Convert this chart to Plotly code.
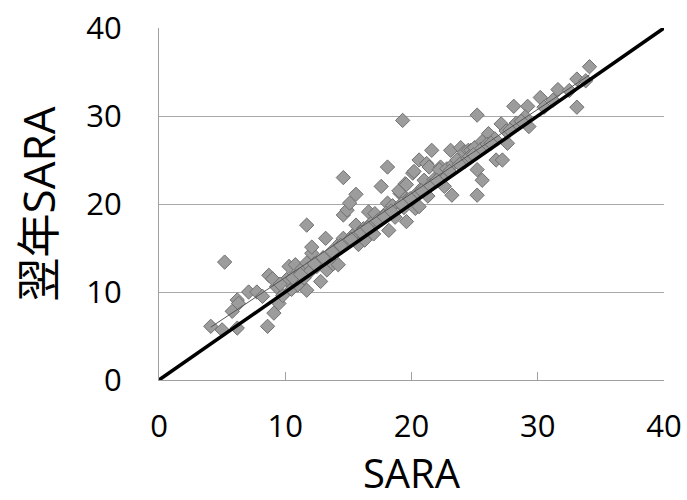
import numpy as np
import plotly.graph_objects as go

# Baseline SARA (x) vs. SARA one year later (y)
sara = [4.1, 5.0, 5.2, 5.8, 6.2, 6.2, 6.3, 7.1, 7.75, 8.2, 8.6, 8.7, 9.1, 9.3, 9.5, 9.0, 9.8,
        10.1, 10.3, 10.8, 10.5, 10.9, 11.3, 11.0, 11.7, 11.5, 11.7, 11.7, 12.1, 12.1, 12.0, 12.5,
        12.8, 12.9, 13.2, 13.3, 13.5, 13.8, 14.0, 14.2, 14.3, 14.6, 14.6, 14.9, 14.6, 15.0, 15.1,
        15.4, 15.6, 15.6, 15.8, 16.3, 16.2, 16.6, 16.8, 17.1, 17.0, 17.5, 17.6, 18.1, 18.1, 18.2,
        18.0, 18.5, 18.7, 19.1, 19.3, 19.0, 19.5, 19.6, 19.6, 19.7, 19.4, 20.1, 20.3, 20.2, 20.6,
        20.6, 20.5, 20.9, 21.0, 21.2, 21.4, 21.3, 21.6, 21.8, 22.3, 22.4, 22.6, 22.2, 22.8, 23.1,
        23.2, 23.3, 23.6, 23.9, 24.2, 24.5, 24.7, 24.2, 24.6, 25.0, 25.2, 25.2, 25.2, 25.6, 25.6,
        25.5, 26.1, 26.0, 26.7, 27.2, 26.6, 27.1, 27.6, 27.5, 28.1, 28.3, 29.2, 29.3, 29.0, 30.2,
        30.5, 31.6, 31.2, 33.1, 33.1, 34.1, 33.8, 32.5,
        9.6, 10.6, 11.2, 12.3, 13.0, 13.7, 14.4, 15.2, 16.0, 16.5, 17.3, 17.8, 18.4, 19.2, 19.9,
        20.8, 21.5, 22.0, 23.0, 23.8, 24.9, 26.3, 27.8, 28.7]
sara_next = [6.1, 5.7, 13.4, 7.8, 5.9, 9.1, 8.7, 10.0, 10.0, 9.5, 6.1, 11.9, 7.6, 10.6, 8.7, 11.5, 9.6,
             11.4, 12.9, 13.1, 10.3, 11.8, 12.6, 10.8, 10.2, 11.6, 13.3, 17.6, 14.4, 15.1, 12.4, 12.9,
             11.2, 13.6, 16.1, 12.5, 14.1, 13.2, 14.8, 13.1, 15.5, 16.1, 18.75, 19.3, 23.0, 15.8, 20.1,
             16.5, 17.6, 21.1, 15.4, 15.9, 17.2, 19.1, 17.8, 18.9, 16.6, 18.2, 22.0, 24.2, 20.1, 17.0,
             19.0, 19.8, 18.5, 21.2, 29.5, 21.5, 22.3, 22.2, 18.0, 20.5, 19.6, 23.5, 19.5, 23.7, 25.0,
             19.7, 21.3, 21.9, 22.7, 24.6, 24.2, 20.9, 26.1, 22.8, 24.2, 23.3, 22.0, 23.9, 24.0, 26.1,
             21.0, 24.5, 25.0, 26.4, 25.9, 26.1, 26.1, 24.8, 25.4, 26.4, 30.1, 23.9, 21.0, 22.7, 27.1,
             26.2, 28.0, 26.8, 25.0, 25.0, 27.4, 29.1, 26.9, 28.3, 31.1, 29.2, 31.1, 28.8, 29.9, 32.1,
             31.0, 33.0, 31.8, 31.0, 34.2, 35.6, 34.0, 32.9,
             10.9, 11.6, 12.0, 13.2, 13.9, 14.6, 15.3, 16.0, 16.8, 17.3, 18.1, 18.6, 19.2, 20.0, 20.6,
             21.5, 22.1, 22.7, 23.7, 24.5, 25.6, 26.9, 28.4, 29.4]

axis_range = [0, 40]
tick_vals = [0, 10, 20, 30, 40]
tick_text = ["0", "10", "20", "30", "40"]
x_title = "SARA"
y_title = "翌年SARA"

# regression line computed from the data
slope, intercept = np.polyfit(sara, sara_next, 1)
reg_x = np.array([min(sara), max(sara)])
reg_y = slope * reg_x + intercept

fig = go.Figure()
fig.add_trace(go.Scatter(
    x=sara, y=sara_next, mode="markers",
    marker=dict(symbol="diamond", size=11, color="#9c9c9c",
                line=dict(color="#707070", width=1)),
    showlegend=False, cliponaxis=False))
fig.add_trace(go.Scatter(
    x=reg_x, y=reg_y, mode="lines",
    line=dict(color="#555555", width=1), showlegend=False))
fig.add_trace(go.Scatter(
    x=axis_range, y=axis_range, mode="lines",
    line=dict(color="black", width=3.5), showlegend=False, cliponaxis=False))

fig.update_layout(
    width=687, height=500,
    margin=dict(l=159, r=23, t=28, b=120, autoexpand=False),
    paper_bgcolor="white", plot_bgcolor="white",
    font=dict(family="Open Sans, Noto Sans CJK JP", color="black"),
)
fig.update_xaxes(
    range=axis_range, tickvals=tick_vals, ticktext=tick_text,
    showgrid=False, zeroline=False,
    showline=True, linecolor="#a0a0a0", linewidth=1,
    ticks="inside", ticklen=8, tickcolor="#a0a0a0", tickwidth=1,
    tickfont=dict(size=31, family="Open Sans"), ticklabelstandoff=19,
    ticklabeloverflow="allow",
    title=dict(text=x_title, font=dict(size=40, family="Open Sans"), standoff=21),
    automargin=False,
)
fig.update_yaxes(
    range=axis_range, tickvals=tick_vals, ticktext=tick_text,
    showgrid=True, gridcolor="#a8a8a8", gridwidth=1, zeroline=False,
    showline=True, linecolor="#a0a0a0", linewidth=1,
    ticks="", tickfont=dict(size=31, family="Open Sans"), ticklabelstandoff=30,
    ticklabeloverflow="allow",
    title=dict(text=y_title, font=dict(size=44, family="Open Sans, Noto Sans CJK JP"), standoff=16),
    automargin=False,
)

# remove the default 8px page margin so the 687x500 figure fills the window exactly
fig.write_html("out.html", config={"displayModeBar": False},
               post_script="document.body.style.margin='0';")
